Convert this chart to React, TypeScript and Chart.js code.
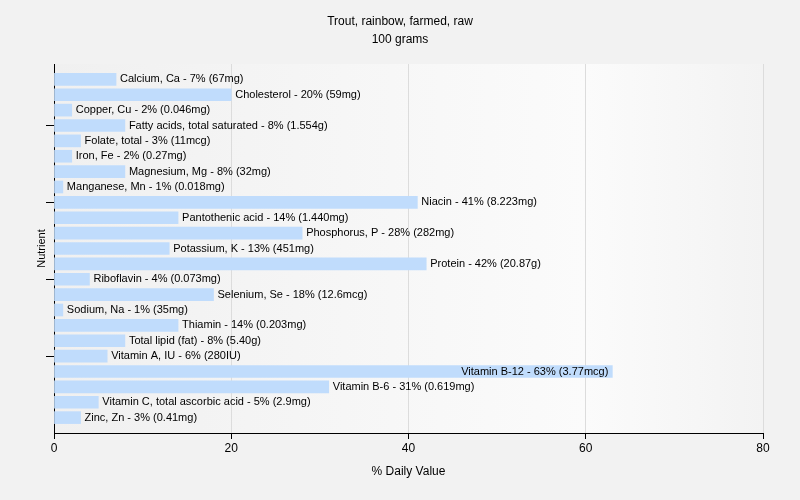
import React, { useEffect, useRef } from "react";
import { Chart, registerables } from "chart.js";

Chart.register(...registerables);

const titleLines = ["Trout, rainbow, farmed, raw", "100 grams"];
const nutrients = [
  "Calcium, Ca",
  "Cholesterol",
  "Copper, Cu",
  "Fatty acids, total saturated",
  "Folate, total",
  "Iron, Fe",
  "Magnesium, Mg",
  "Manganese, Mn",
  "Niacin",
  "Pantothenic acid",
  "Phosphorus, P",
  "Potassium, K",
  "Protein",
  "Riboflavin",
  "Selenium, Se",
  "Sodium, Na",
  "Thiamin",
  "Total lipid (fat)",
  "Vitamin A, IU",
  "Vitamin B-12",
  "Vitamin B-6",
  "Vitamin C, total ascorbic acid",
  "Zinc, Zn",
];
const dailyValues = [7, 20, 2, 8, 3, 2, 8, 1, 41, 14, 28, 13, 42, 4, 18, 1, 14, 8, 6, 63, 31, 5, 3];
const amounts = [
  "67mg", "59mg", "0.046mg", "1.554g", "11mcg", "0.27mg", "32mg", "0.018mg",
  "8.223mg", "1.440mg", "282mg", "451mg", "20.87g", "0.073mg", "12.6mcg", "35mg",
  "0.203mg", "5.40g", "280IU", "3.77mcg", "0.619mg", "2.9mg", "0.41mg",
];
const xTicks = [0, 20, 40, 60, 80];
const yTickPositions = [3, 8, 13, 18];
const xTitle = "% Daily Value";
const yTitle = "Nutrient";

const FONT = "'Liberation Sans', Arial, sans-serif";

const decorPlugin = {
  id: "decor",
  beforeDraw(chart: any) {
    const { ctx, chartArea: a } = chart;
    ctx.save();
    const g = ctx.createLinearGradient(a.left, 0, a.right, 0);
    g.addColorStop(0, "#f0f0f0");
    g.addColorStop(0.75, "#fbfbfb");
    g.addColorStop(1, "#f3f3f3");
    ctx.fillStyle = g;
    ctx.fillRect(a.left, a.top, a.right - a.left, a.bottom - a.top);
    ctx.restore();
  },
  afterDraw(chart: any) {
    const { ctx, chartArea: a } = chart;
    ctx.save();
    ctx.fillStyle = "#000";
    ctx.textAlign = "center";
    ctx.textBaseline = "middle";
    ctx.font = `12px ${FONT}`;
    ctx.fillText(titleLines[0], 400, 22);
    ctx.fillText(titleLines[1], 400, 40);
    ctx.fillText(xTitle, (a.left + a.right) / 2, 472);
    ctx.translate(42, (a.top + a.bottom) / 2);
    ctx.rotate(-Math.PI / 2);
    ctx.font = `11px ${FONT}`;
    ctx.fillText(yTitle, 0, 0);
    ctx.restore();

    // bar labels
    const meta = chart.getDatasetMeta(0);
    ctx.save();
    ctx.font = `11px ${FONT}`;
    ctx.fillStyle = "#000";
    ctx.textBaseline = "middle";
    meta.data.forEach((bar: any, i: number) => {
      const text = `${nutrients[i]} - ${dailyValues[i]}% (${amounts[i]})`;
      const w = ctx.measureText(text).width;
      if (bar.x + 4 + w > a.right) {
        ctx.textAlign = "right";
        ctx.fillText(text, bar.x - 4, bar.y);
      } else {
        ctx.textAlign = "left";
        ctx.fillText(text, bar.x + 4, bar.y);
      }
    });
    ctx.restore();
  },
};

export default function App() {
  const ref = useRef<HTMLCanvasElement>(null);
  useEffect(() => {
    document.body.style.margin = "0";
    const chart = new Chart(ref.current!, {
      type: "bar",
      data: {
        datasets: [
          {
            data: dailyValues.map((v, i) => ({ x: v, y: i })),
            backgroundColor: "#c0dcfc",
            borderWidth: 0,
            barThickness: 12,
          },
        ],
      },
      options: {
        indexAxis: "y",
        animation: false,
        responsive: false,
        layout: { padding: { top: 64, right: 37, left: 0, bottom: 0 } },
        plugins: { legend: { display: false }, tooltip: { enabled: false }, title: { display: false } },
        scales: {
          x: {
            type: "linear",
            min: 0,
            max: 80,
            offset: false,
            afterBuildTicks: (s: any) => {
              s.ticks = xTicks.map((v) => ({ value: v }));
            },
            afterFit: (s: any) => {
              s.height = 67;
            },
            grid: { color: "#dcdcdc", tickColor: "#000", tickLength: 6, lineWidth: 1, offset: false },
            border: { display: true, color: "#000", width: 1 },
            ticks: { color: "#000", font: { size: 12, family: FONT }, padding: 2 },
          },
          y: {
            type: "linear",
            reverse: true,
            min: -1,
            max: 23,
            offset: false,
            afterBuildTicks: (s: any) => {
              s.ticks = yTickPositions.map((v) => ({ value: v }));
            },
            afterFit: (s: any) => {
              s.width = 54;
            },
            grid: { drawOnChartArea: false, tickColor: "#000", tickLength: 8, color: "#000", offset: false },
            border: { display: true, color: "#000", width: 1 },
            ticks: { callback: () => "", padding: 0 },
          },
        },
      },
      plugins: [decorPlugin],
    });
    return () => chart.destroy();
  }, []);
  return (
    <div style={{ width: 800, height: 500, background: "#f2f2f2" }}>
      <canvas ref={ref} width={800} height={500} style={{ display: "block" }} />
    </div>
  );
}
